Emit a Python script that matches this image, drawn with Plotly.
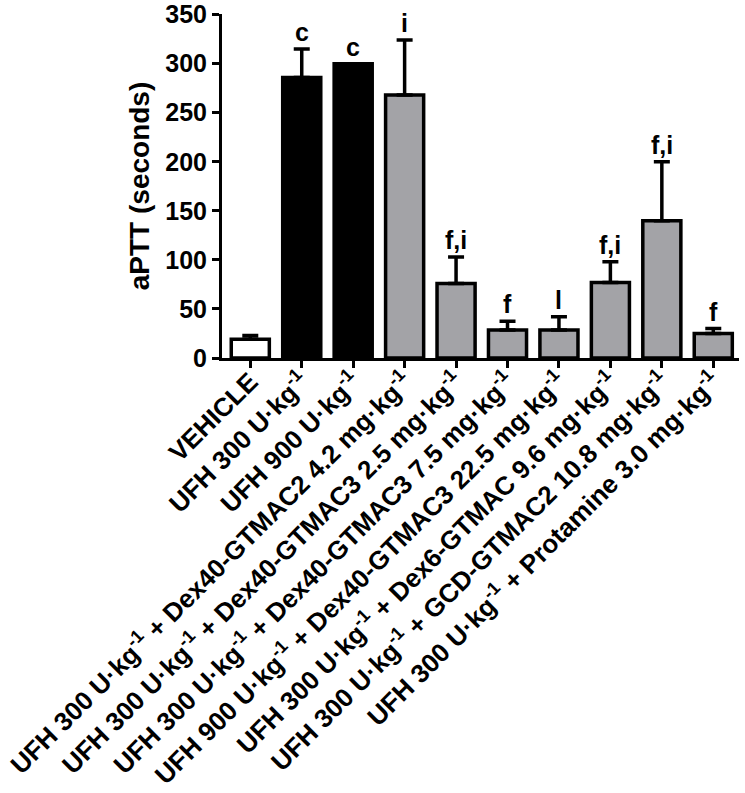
import plotly.graph_objects as go

labels = [
    "VEHICLE",
    "UFH 300 U·kg<sup>-1</sup>",
    "UFH 900 U·kg<sup>-1</sup>",
    "UFH 300 U·kg<sup>-1</sup> + Dex40-GTMAC2 4.2 mg·kg<sup>-1</sup>",
    "UFH 300 U·kg<sup>-1</sup> + Dex40-GTMAC3 2.5 mg·kg<sup>-1</sup>",
    "UFH 300 U·kg<sup>-1</sup> + Dex40-GTMAC3 7.5 mg·kg<sup>-1</sup>",
    "UFH 900 U·kg<sup>-1</sup> + Dex40-GTMAC3 22.5 mg·kg<sup>-1</sup>",
    "UFH 300 U·kg<sup>-1</sup> + Dex6-GTMAC 9.6 mg·kg<sup>-1</sup>",
    "UFH 300 U·kg<sup>-1</sup> + GCD-GTMAC2 10.8 mg·kg<sup>-1</sup>",
    "UFH 300 U·kg<sup>-1</sup> + Protamine 3.0 mg·kg<sup>-1</sup>",
]
means = [19, 286, 300, 268, 76, 28.5, 28.5, 77, 140, 25]
errors = [4, 29, 0, 56, 27, 9, 13.5, 21, 60, 5]
letters = ["", "c", "c", "i", "f,i", "f", "l", "f,i", "f,i", "f"]
fill_colors = ["#FFFFFF", "#000000", "#000000"] + ["#A3A3A7"] * 7
y_ticks = [0, 50, 100, 150, 200, 250, 300, 350]

xs = list(range(len(labels)))
FONT = "Liberation Sans, Arial, sans-serif"

fig = go.Figure()
fig.add_trace(go.Bar(
    x=xs, y=means, width=0.74,
    marker=dict(color=fill_colors, line=dict(color="black", width=3.5)),
    error_y=dict(type="data", array=errors, arrayminus=[0] * len(errors),
                 symmetric=False, thickness=3.5, width=8, color="black"),
    showlegend=False,
))

for x, m, e, t in zip(xs, means, errors, letters):
    if t:
        fig.add_annotation(x=x, y=m + e, text=t, showarrow=False,
                           yanchor="bottom", yshift=1,
                           font=dict(family=FONT, size=25, color="black", weight="bold"))

fig.update_layout(
    width=745, height=793,
    margin=dict(l=222, r=6, t=14, b=435),
    plot_bgcolor="white", paper_bgcolor="white",
    font=dict(family=FONT, color="black"),
)
fig.update_xaxes(
    range=[-0.55, 9.5], tickvals=xs, ticktext=labels, tickangle=-45,
    showline=True, linecolor="black", linewidth=3,
    ticks="outside", ticklen=7, tickwidth=3, tickcolor="black",
    showgrid=False, zeroline=False, automargin=False,
    ticklabelstandoff=-12,
    tickfont=dict(family=FONT, size=26, color="black", weight="bold"),
)
fig.update_yaxes(
    range=[0, 350.6], tickvals=y_ticks,
    showline=True, linecolor="black", linewidth=3,
    ticks="outside", ticklen=7, tickwidth=3, tickcolor="black",
    showgrid=False, zeroline=False, automargin=False,
    tickfont=dict(family=FONT, size=25, color="black", weight="bold"),
    title=dict(text="aPTT (seconds)", standoff=8,
               font=dict(family=FONT, size=28, color="black", weight="bold")),
)

fig.write_html("out.html", config={"displayModeBar": False},
               post_script="document.body.style.margin='0';document.body.style.padding='0';")
